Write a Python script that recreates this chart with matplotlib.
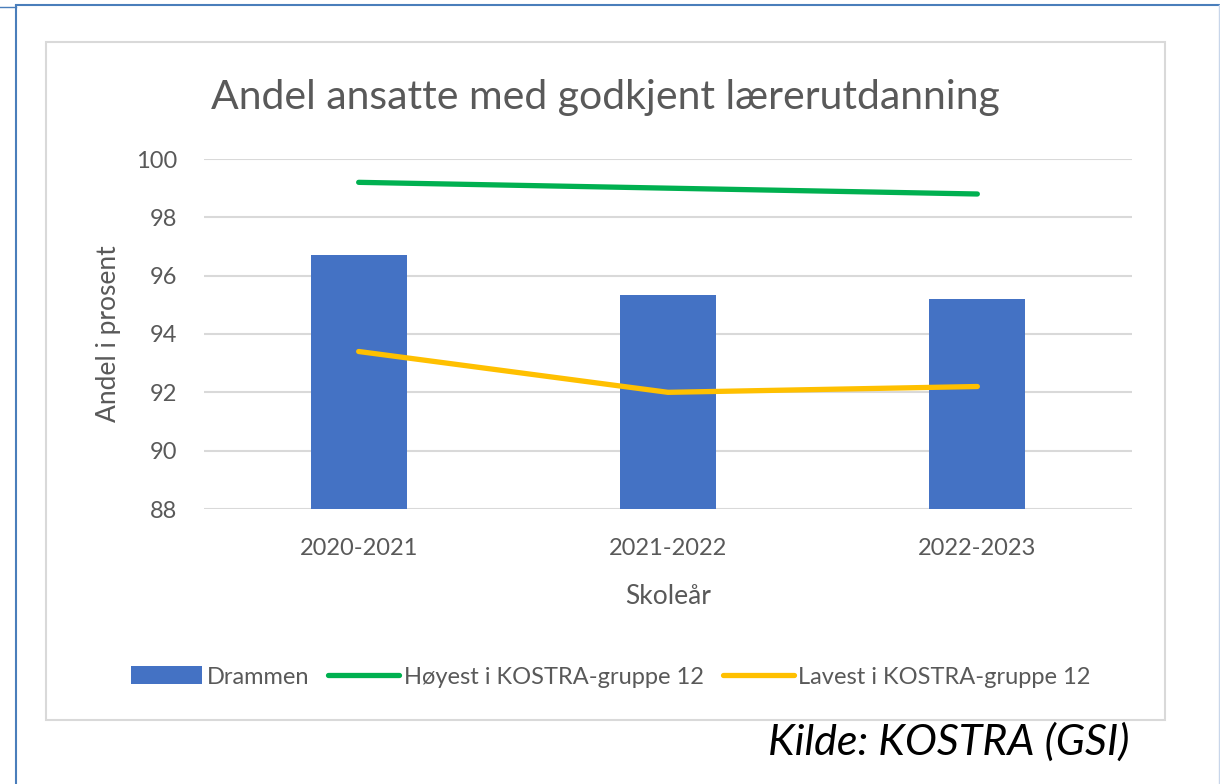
import numpy as np
import matplotlib
matplotlib.use('Agg')
import matplotlib.pyplot as plt
from matplotlib.patches import Rectangle
from matplotlib.lines import Line2D

plt.rcParams['font.family'] = ['Lato', 'DejaVu Sans']

# data
skoleaar = ['2020-2021', '2021-2022', '2022-2023']
drammen = [96.7, 95.35, 95.2]
hoyest = [99.2, 99.0, 98.8]
lavest = [93.4, 92.0, 92.2]

grey_txt = '#595959'

fig = plt.figure(figsize=(12.2, 7.84), dpi=100)
W, H = 1220, 784

def fx(px):
    return px / W

def fy(py):
    return 1 - py / H

# outer blue frame
blue_frame = '#4a7ebb'
fig.add_artist(Line2D([fx(16), fx(16)], [fy(6), 0], color=blue_frame, lw=1.5))
fig.add_artist(Line2D([fx(16), 1], [fy(5), fy(5)], color=blue_frame, lw=1.5))
fig.add_artist(Line2D([0, fx(16)], [fy(7), fy(7)], color=blue_frame, lw=1.0))
fig.add_artist(Line2D([fx(1219), fx(1219)], [fy(5), 0], color='#c8d6ea', lw=1.0))

# chart area box
fig.add_artist(Rectangle((fx(46), fy(720)), fx(1165) - fx(46), fy(42) - fy(720),
                         fill=False, edgecolor='#d9d9d9', lw=1.5))

ax = fig.add_axes([fx(204), fy(509), fx(1132) - fx(204), fy(159) - fy(509)])
x = np.arange(len(skoleaar))

b = ax.bar(x, drammen, width=0.31, color='#4472C4', label='Drammen', zorder=2)
l1, = ax.plot(x, hoyest, color='#00B050', lw=3.8, solid_capstyle='round',
              label='Høyest i KOSTRA-gruppe 12', zorder=3)
l2, = ax.plot(x, lavest, color='#FFC000', lw=3.8, solid_capstyle='round',
              label='Lavest i KOSTRA-gruppe 12', zorder=3)

ax.set_xlim(-0.5, 2.5)
ax.set_ylim(88, 100)
ax.set_yticks(np.arange(88, 101, 2))
ax.grid(axis='y', color='#d9d9d9', lw=1.5, zorder=0)
ax.set_axisbelow(True)
for s in ax.spines.values():
    s.set_visible(False)
ax.tick_params(length=0, labelsize=17, labelcolor=grey_txt)
ax.tick_params(axis='y', pad=19)
ax.tick_params(axis='x', pad=21)
ax.set_xticks(x)
ax.set_xticklabels(skoleaar)

ax.set_ylabel('Andel i prosent', fontsize=19, color=grey_txt, labelpad=11)
ax.set_xlabel('Skoleår', fontsize=19, color=grey_txt, labelpad=18)

fig.text(fx(605), fy(98), 'Andel ansatte med godkjent lærerutdanning',
         ha='center', va='center', fontsize=29.5, color=grey_txt)

leg = fig.legend([b, l1, l2], ['Drammen', 'Høyest i KOSTRA-gruppe 12', 'Lavest i KOSTRA-gruppe 12'],
                 loc='center', bbox_to_anchor=(fx(611), fy(677)), ncol=3,
                 frameon=False, fontsize=17, handlelength=3.0, handletextpad=0.2,
                 columnspacing=0.8, handleheight=0.8)
for t in leg.get_texts():
    t.set_color(grey_txt)

fig.text(fx(1130), fy(742), 'Kilde: KOSTRA (GSI)', ha='right', va='center',
         fontsize=31, style='italic', color='black')

fig.savefig('out.png', dpi=100)
